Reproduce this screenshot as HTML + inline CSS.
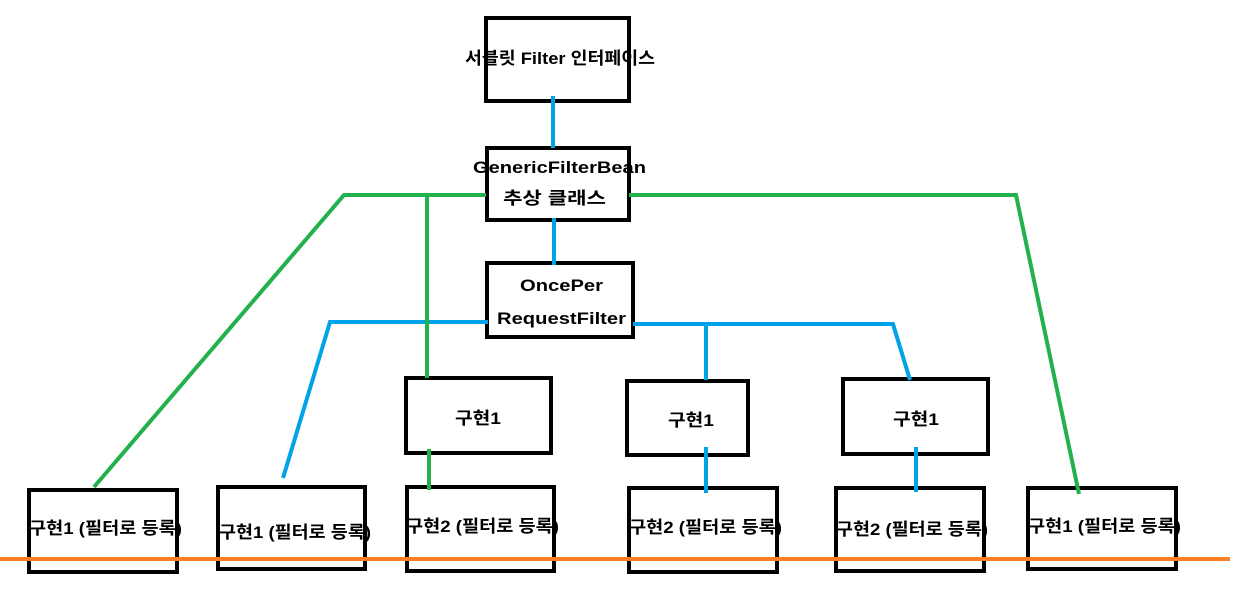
<!DOCTYPE html>
<html><head><meta charset="utf-8"><style>
html,body{margin:0;padding:0;background:#fff;width:1250px;height:594px;overflow:hidden}
text{font-family:"Liberation Sans","Noto Sans CJK KR",sans-serif;font-weight:bold;font-size:17px;fill:#000}
</style></head><body>
<svg width="1250" height="594" xmlns="http://www.w3.org/2000/svg">
<g fill="#fff" stroke="#000" stroke-width="4">
<rect x="486" y="18" width="143" height="83"/>
<rect x="487" y="148" width="142" height="72"/>
<rect x="487" y="263" width="146" height="74"/>
<rect x="406" y="378" width="145" height="75"/>
<rect x="627" y="381" width="121" height="74"/>
<rect x="843" y="379" width="145" height="75"/>
<rect x="29" y="490" width="148" height="82"/>
<rect x="218" y="487" width="147" height="82"/>
<rect x="407" y="487" width="147" height="84"/>
<rect x="629" y="488" width="148" height="84"/>
<rect x="836" y="488" width="148" height="83"/>
<rect x="1028" y="488" width="148" height="81"/>
</g>
<g fill="none" stroke="#00a2e8" stroke-width="4">
<path d="M553 96V148M554 218V265M488 322H330L283 478M633 324H893L910 380M706 324V380M706 447V493M916 447V492"/>
</g>
<g fill="none" stroke="#22b14c" stroke-width="4">
<path d="M486 195H344L94 487M427 195V378M429 449V490M629 195H1016L1079 494"/>
</g>
<line x1="0" y1="559" x2="1230" y2="559" stroke="#ff7f27" stroke-width="4"/>
<text x="465" y="64" textLength="190" lengthAdjust="spacingAndGlyphs">서블릿 Filter 인터페이스</text>
<text x="473" y="173" textLength="173" lengthAdjust="spacingAndGlyphs">GenericFilterBean</text>
<text x="503" y="204" textLength="103" lengthAdjust="spacingAndGlyphs">추상 클래스</text>
<text x="520" y="291" textLength="83" lengthAdjust="spacingAndGlyphs">OncePer</text>
<text x="497" y="324" textLength="129" lengthAdjust="spacingAndGlyphs">RequestFilter</text>
<text x="455" y="424" textLength="46" lengthAdjust="spacingAndGlyphs">구현1</text>
<text x="668" y="426" textLength="46" lengthAdjust="spacingAndGlyphs">구현1</text>
<text x="893" y="425" textLength="46" lengthAdjust="spacingAndGlyphs">구현1</text>
<text x="29" y="534" textLength="153" lengthAdjust="spacingAndGlyphs">구현1 (필터로 등록)</text>
<text x="219" y="538" textLength="152" lengthAdjust="spacingAndGlyphs">구현1 (필터로 등록)</text>
<text x="406" y="532" textLength="153" lengthAdjust="spacingAndGlyphs">구현2 (필터로 등록)</text>
<text x="629" y="533" textLength="153" lengthAdjust="spacingAndGlyphs">구현2 (필터로 등록)</text>
<text x="836" y="535" textLength="152" lengthAdjust="spacingAndGlyphs">구현2 (필터로 등록)</text>
<text x="1028" y="532" textLength="153" lengthAdjust="spacingAndGlyphs">구현1 (필터로 등록)</text>
</svg>
</body></html>
